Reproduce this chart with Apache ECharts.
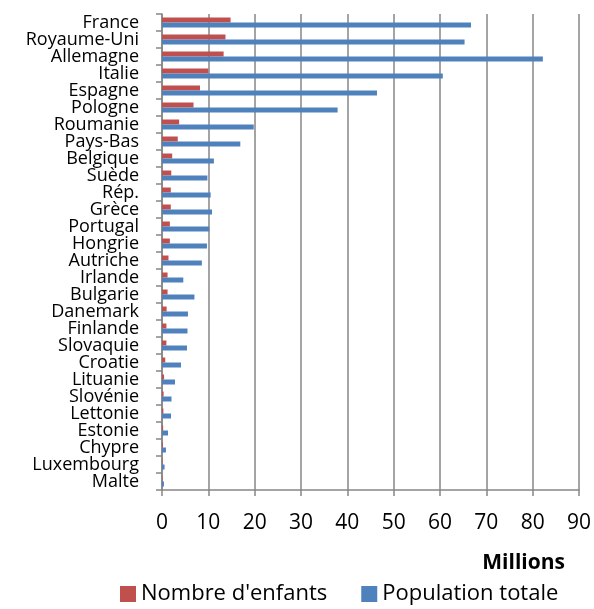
<!DOCTYPE html>
<html><head><meta charset="utf-8">
<script src="https://cdn.jsdelivr.net/npm/echarts@6/dist/echarts.min.js"></script>
<style>html,body{margin:0;padding:0;background:#fff}#c{width:594px;height:609px}</style>
</head><body><div id="c"></div>
<script>
const countries = ["France","Royaume-Uni","Allemagne","Italie","Espagne","Pologne","Roumanie","Pays-Bas","Belgique","Suède","Rép.","Grèce","Portugal","Hongrie","Autriche","Irlande","Bulgarie","Danemark","Finlande","Slovaquie","Croatie","Lituanie","Slovénie","Lettonie","Estonie","Chypre","Luxembourg","Malte"];
const enfants = [14.8,13.7,13.3,10.0,8.2,6.8,3.7,3.4,2.2,2.0,1.9,1.9,1.7,1.7,1.4,1.2,1.2,1.0,0.95,0.95,0.7,0.45,0.35,0.3,0.25,0.2,0.12,0.08];
const population = [66.7,65.3,82.2,60.6,46.4,37.9,19.8,16.9,11.2,9.8,10.5,10.8,10.2,9.7,8.6,4.6,7.0,5.6,5.5,5.4,4.1,2.8,2.05,1.95,1.3,0.85,0.55,0.42];
const xTicks = [0,90,10];
const seriesNames = ["Nombre d'enfants","Population totale"];

const font = "'Open Sans', sans-serif";
const chart = echarts.init(document.getElementById('c'));
chart.setOption({
  animation:false,
  textStyle:{fontFamily:font},
  grid:{left:162,right:14,top:14,bottom:119,containLabel:false},
  title:{text:'Millions',right:24,top:548,textStyle:{fontFamily:font,fontSize:21,fontWeight:'bold',color:'#000'}},
  legend:{bottom:-1,left:115,itemWidth:16,itemHeight:16,itemGap:34,icon:'rect',
    textStyle:{fontFamily:font,fontSize:22,color:'#000'},data:seriesNames},
  xAxis:{type:'value',min:xTicks[0],max:xTicks[1],interval:xTicks[2],
    axisLine:{show:true,lineStyle:{color:'#868686',width:1.5}},
    axisTick:{show:true,length:6,lineStyle:{color:'#868686',width:1.5}},
    splitLine:{show:true,lineStyle:{color:'#868686',width:1.5}},
    axisLabel:{fontFamily:font,fontSize:21,color:'#000',margin:23}},
  yAxis:{type:'category',inverse:true,data:countries,
    axisLine:{show:true,lineStyle:{color:'#868686',width:1.5}},
    axisTick:{show:true,length:6,lineStyle:{color:'#868686',width:1.5}},
    axisLabel:{fontFamily:font,fontSize:18,color:'#000',margin:23,interval:0,lineHeight:16}},
  series:[
    {name:seriesNames[0],type:'bar',data:enfants,barWidth:5,barGap:'0%',itemStyle:{color:'#C0504D'}},
    {name:seriesNames[1],type:'bar',data:population,barWidth:5,barGap:'0%',itemStyle:{color:'#4F81BD'}}
  ]
});
</script></body></html>
